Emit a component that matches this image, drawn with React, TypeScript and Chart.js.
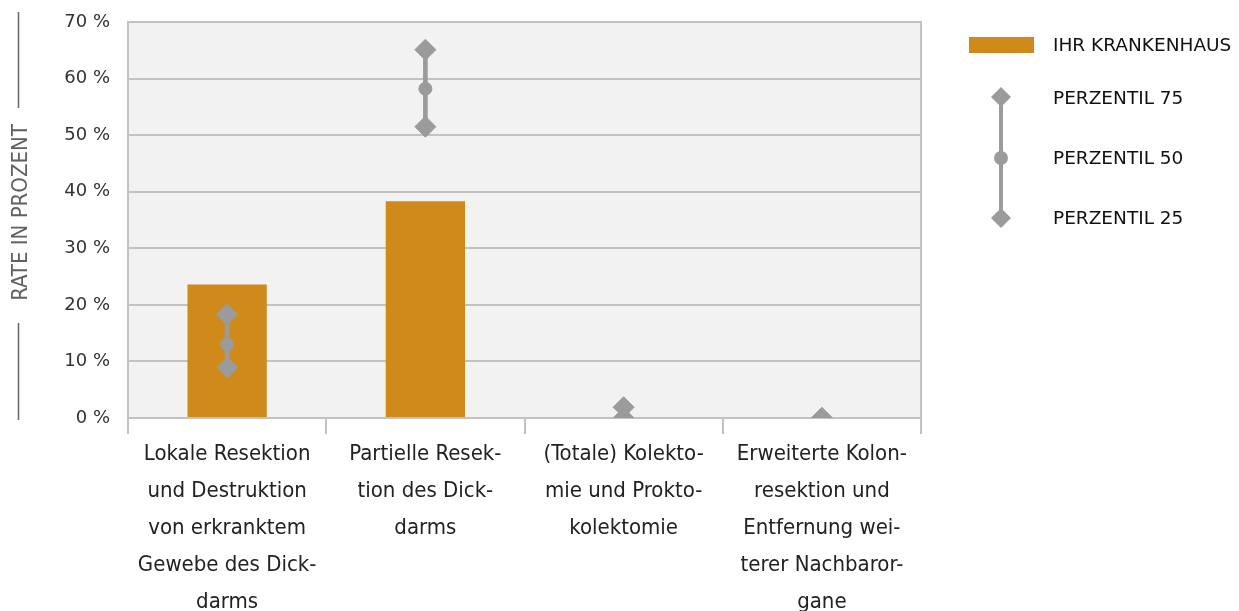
import React, { useEffect, useRef } from "react";
import { Chart, registerables } from "chart.js";

Chart.register(...registerables);

const categories: string[][] = [
  ["Lokale Resektion", "und Destruktion", "von erkranktem", "Gewebe des Dick-", "darms"],
  ["Partielle Resek-", "tion des Dick-", "darms"],
  ["(Totale) Kolekto-", "mie und Prokto-", "kolektomie"],
  ["Erweiterte Kolon-", "resektion und", "Entfernung wei-", "terer Nachbaror-", "gane"],
];
const hospitalRates = [23.6, 38.3, 0, 0];
const perzentil75 = [18.3, 65.1, 1.9, 0];
const perzentil50 = [13.0, 58.2, 0, 0];
const perzentil25 = [8.9, 51.5, 0, 0];
const yTickValues = [0, 10, 20, 30, 40, 50, 60, 70];
const legendLabels = ["IHR KRANKENHAUS", "PERZENTIL 75", "PERZENTIL 50", "PERZENTIL 25"];
const yTitle = "RATE IN PROZENT";

const ORANGE = "#d08a19";
const MARK = "#9b9b9b";
const GRID = "#c2c2c2";

const bgPlugin = {
  id: "plotBg",
  beforeDraw(chart: any) {
    const { ctx, chartArea } = chart;
    ctx.save();
    ctx.fillStyle = "#f2f2f2";
    ctx.fillRect(chartArea.left, chartArea.top, chartArea.right - chartArea.left, chartArea.bottom - chartArea.top);
    ctx.restore();
  },
  afterDraw(chart: any) {
    const { ctx, chartArea } = chart;
    ctx.save();
    ctx.strokeStyle = GRID;
    ctx.lineWidth = 2;
    ctx.beginPath();
    ctx.moveTo(chartArea.right, chartArea.top - 1);
    ctx.lineTo(chartArea.right, chartArea.bottom);
    ctx.stroke();
    // y title
    ctx.fillStyle = "#606060";
    ctx.font = "22px 'DejaVu Sans Condensed', 'DejaVu Sans', sans-serif";
    ctx.textAlign = "center";
    ctx.textBaseline = "alphabetic";
    ctx.translate(27, 212.5);
    ctx.rotate(-Math.PI / 2);
    ctx.fillText(yTitle, 0, 0);
    ctx.restore();
    ctx.save();
    ctx.strokeStyle = "#666666";
    ctx.lineWidth = 1.5;
    ctx.beginPath();
    ctx.moveTo(18.5, 12);
    ctx.lineTo(18.5, 108);
    ctx.moveTo(18.5, 323);
    ctx.lineTo(18.5, 420);
    ctx.stroke();
    ctx.restore();
  },
};

export default function App() {
  const ref = useRef<HTMLCanvasElement | null>(null);

  useEffect(() => {
    if (!ref.current) return;
    const rangeData = perzentil25.map((v, i) => [v, perzentil75[i]]);
    const chart = new Chart(ref.current, {
      type: "bar",
      data: {
        labels: categories,
        datasets: [
          {
            type: "bar",
            label: legendLabels[0],
            data: hospitalRates,
            backgroundColor: ORANGE,
            grouped: false,
            barPercentage: 0.5,
            categoryPercentage: 0.8,
            order: 5,
          } as any,
          {
            type: "bar",
            label: "range",
            data: rangeData,
            backgroundColor: MARK,
            grouped: false,
            barThickness: 4,
            order: 4,
          } as any,
          {
            type: "line",
            label: legendLabels[1],
            data: perzentil75,
            showLine: false,
            pointStyle: "rectRot",
            pointRadius: 10.5,
            pointBorderWidth: 1,
            pointBackgroundColor: MARK,
            pointBorderColor: MARK,
            clip: 0,
            order: 1,
          } as any,
          {
            type: "line",
            label: legendLabels[2],
            data: perzentil50,
            showLine: false,
            pointStyle: "circle",
            pointRadius: 6.5,
            pointBorderWidth: 1,
            pointBackgroundColor: MARK,
            pointBorderColor: MARK,
            clip: 0,
            order: 2,
          } as any,
          {
            type: "line",
            label: legendLabels[3],
            data: perzentil25,
            showLine: false,
            pointStyle: "rectRot",
            pointRadius: 10.5,
            pointBorderWidth: 1,
            pointBackgroundColor: MARK,
            pointBorderColor: MARK,
            clip: 0,
            order: 3,
          } as any,
        ],
      },
      options: {
        animation: false,
        responsive: true,
        maintainAspectRatio: false,
        layout: { padding: { left: 40, right: 318, top: 22, bottom: 0 } },
        plugins: {
          legend: { display: false },
          tooltip: { enabled: false },
        },
        scales: {
          x: {
            offset: true,
            grid: {
              display: true,
              drawOnChartArea: false,
              drawTicks: true,
              tickLength: 16,
              color: GRID,
              lineWidth: 2,
              offset: true,
            },
            border: { display: true, color: GRID, width: 2 },
            ticks: {
              autoSkip: false,
              maxRotation: 0,
              minRotation: 0,
              padding: 2,
              color: "#222222",
              font: { family: "'DejaVu Sans Condensed', 'DejaVu Sans', sans-serif", size: 22, lineHeight: 1.68 },
            },
            afterFit: (scale: any) => {
              scale.height = 193;
            },
          },
          y: {
            min: 0,
            max: 70,
            afterBuildTicks: (scale: any) => {
              scale.ticks = yTickValues.map((v) => ({ value: v }));
            },
            grid: { color: GRID, lineWidth: 2, drawTicks: false },
            border: { display: true, color: GRID, width: 2 },
            ticks: {
              padding: 18,
              color: "#333333",
              font: { family: "'DejaVu Sans', sans-serif", size: 18 },
              callback: (v: any) => `${v} %`,
            },
            afterFit: (scale: any) => {
              scale.width = 88;
              scale.paddingTop = 0;
              scale.paddingBottom = 0;
            },
          },
        },
      },
      plugins: [bgPlugin],
    });
    return () => chart.destroy();
  }, []);

  const textStyle: React.CSSProperties = {
    position: "absolute",
    left: 1053,
    font: "18.5px 'DejaVu Sans', sans-serif",
    color: "#111111",
    lineHeight: "20px",
    whiteSpace: "nowrap",
  };

  return (
    <div style={{ position: "absolute", left: 0, top: 0, width: 1239, height: 611, background: "#fff", overflow: "hidden" }}>
      <canvas ref={ref} />
      <div style={{ position: "absolute", left: 969, top: 37, width: 65, height: 16, background: ORANGE }} />
      <svg style={{ position: "absolute", left: 980, top: 80, width: 42, height: 160 }} width={42} height={160}>
        <line x1={21} y1={17} x2={21} y2={138} stroke={MARK} strokeWidth={4} />
        <polygon points="11,17 21,7 31,17 21,27" fill={MARK} />
        <circle cx={21} cy={78} r={7} fill={MARK} />
        <polygon points="11,138 21,128 31,138 21,148" fill={MARK} />
      </svg>
      <div style={{ ...textStyle, top: 35 }}>{legendLabels[0]}</div>
      <div style={{ ...textStyle, top: 88 }}>{legendLabels[1]}</div>
      <div style={{ ...textStyle, top: 148 }}>{legendLabels[2]}</div>
      <div style={{ ...textStyle, top: 208 }}>{legendLabels[3]}</div>
    </div>
  );
}
